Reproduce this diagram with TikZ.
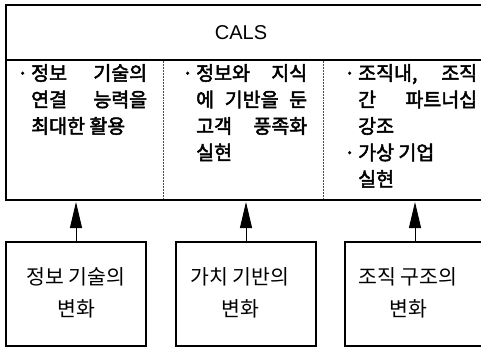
\documentclass[tikz,border=0pt]{standalone}
\usepackage{fontspec}
\setmainfont{Liberation Sans}
\newfontfamily\kr{Noto Sans CJK KR}
\newfontfamily\krb{Noto Sans CJK KR}[FakeBold=2.5]
\usetikzlibrary{arrows.meta}
\newcommand\bl{\llap{·\hspace{3pt}}}
\newcommand\jl[2]{\makebox[#1][l]{#2}}
\begin{document}
\begin{tikzpicture}[x=1pt,y=-1pt,
  frame/.style={draw=black,line width=1.6pt},
  divider/.style={draw=black!70,densely dotted,line width=0.5pt},
  coltext/.style={anchor=north west,inner sep=0pt,align=left,font=\krb\fontsize{19.5}{26.5}\selectfont},
  boxtext/.style={anchor=center,inner sep=0pt,align=center,font=\kr\fontsize{20.5}{32}\selectfont},
  uparrow/.style={-{Triangle[length=26pt,width=12pt]},line width=1pt}]
\useasboundingbox (0,0) rectangle (481,350);
\clip (0,0) rectangle (481,350);
% main frame
\draw[frame] (6,5) rectangle (490,200);
\draw[frame] (6,60) -- (490,60);
\node (cals) at (241,33) {\fontsize{20}{22}\selectfont CALS};
\draw[divider] (163,61) -- (163,199);
\draw[divider] (323,61) -- (323,199);
% column texts
\node[coltext] (c1) at (31,64) {\bl\jl{116pt}{정보\hfill 기술의}\\\jl{116pt}{연결\hfill 능력을}\\최대한 활용};
\node[coltext] (c2) at (196,64) {\bl\jl{111pt}{정보와\hfill 지식}\\\jl{111pt}{에\hfill 기반을\hfill 둔}\\\jl{111pt}{고객\hfill 풍족화}\\실현};
\node[coltext] (c3) at (358,64) {\bl\jl{119pt}{조직내,\hfill 조직}\\\jl{119pt}{간\hfill 파트너십}\\강조\\\bl 가상 기업\\실현};
% bottom boxes
\draw[frame] (6,242) rectangle (146,346);
\draw[frame] (176,242) rectangle (316,346);
\draw[frame] (345,242) rectangle (490,346);
\coordinate (b1) at (76,242);
\coordinate (b2) at (246,242);
\coordinate (b3) at (415,242);
\coordinate (t1) at (76,202);
\coordinate (t2) at (246,202);
\coordinate (t3) at (415,202);
\node[boxtext] (l1) at (76,293) {정보 기술의\\변화};
\node[boxtext] (l2) at (240,293) {가치 기반의\\변화};
\node[boxtext] (l3) at (408,293) {조직 구조의\\변화};
\draw[uparrow] (b1) -- (t1);
\draw[uparrow] (b2) -- (t2);
\draw[uparrow] (b3) -- (t3);
\end{tikzpicture}
\end{document}
